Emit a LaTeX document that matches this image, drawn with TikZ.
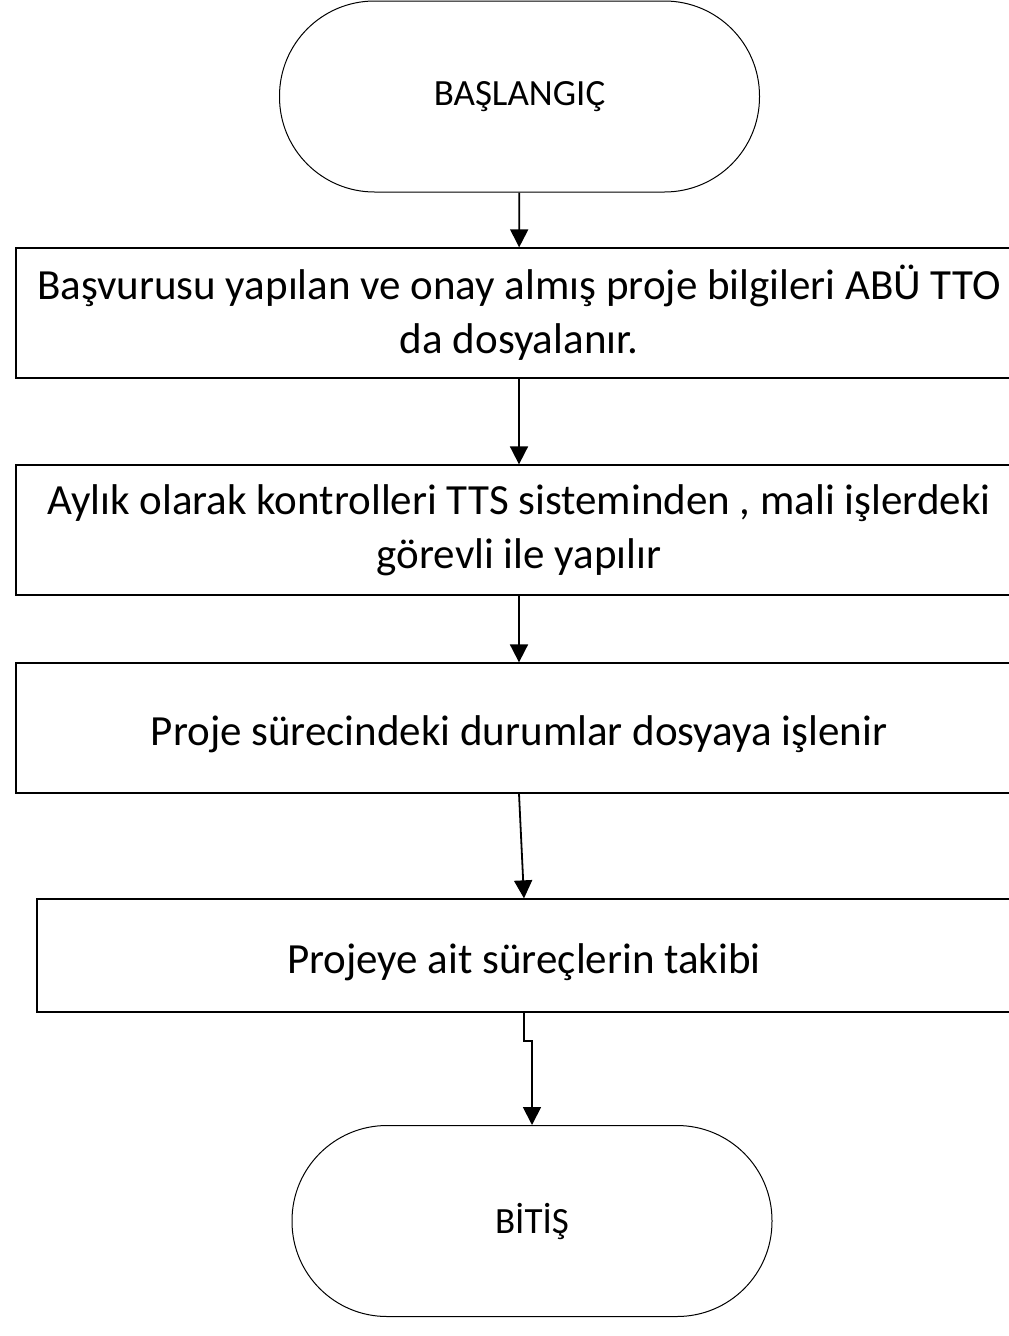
\documentclass[tikz,border=0pt]{standalone}
\usepackage{fontspec}
\setmainfont{Carlito}
\usetikzlibrary{arrows.meta}
\begin{document}
\begin{tikzpicture}[x=1pt,y=-1pt]
\tikzstyle{terminal}=[draw=black, line width=1pt, rounded corners=95pt, minimum width=480pt, minimum height=191pt, inner sep=0pt, font=\fontsize{37}{44}\selectfont]
\tikzstyle{islem}=[draw=black, line width=1.3pt, minimum height=130pt, inner sep=0pt, align=center, font=\fontsize{43}{54}\selectfont, execute at begin node=\rule{0pt}{43pt}]
\tikzstyle{ok}=[line width=1.8pt, -{Triangle[width=18pt,length=18pt]}]
\useasboundingbox (0,0) rectangle (1009,1336);
\clip (0,0) rectangle (1009,1336);
% akis kutulari
\node [terminal] (basla) at (519.5,96.5) {BAŞLANGIÇ};
\node [islem, minimum width=1006pt] (dosya) at (519,313) {Başvurusu yapılan ve onay almış proje bilgileri ABÜ TTO\\da dosyalanır.};
\node [islem, minimum width=1006pt] (kontrol) at (519,530) {Aylık olarak kontrolleri TTS sisteminden , mali işlerdeki\\görevli ile yapılır};
\node [islem, minimum width=1006pt] (durum) at (519,728) {Proje sürecindeki durumlar dosyaya işlenir};
\node [islem, minimum width=974pt, minimum height=113pt] (takip) at (524,955.5) {Projeye ait süreçlerin takibi};
\node [terminal] (bitis) at (532,1221) {BİTİŞ};
% oklar
\draw [ok] (basla) -- (dosya);
\draw [ok] (dosya) -- (kontrol);
\draw [ok] (kontrol) -- (durum);
\draw [ok] (durum.south) -- (takip.north);
\draw [ok] (takip.south) -- ++(0,28) -| (bitis.north);
\end{tikzpicture}
\end{document}
